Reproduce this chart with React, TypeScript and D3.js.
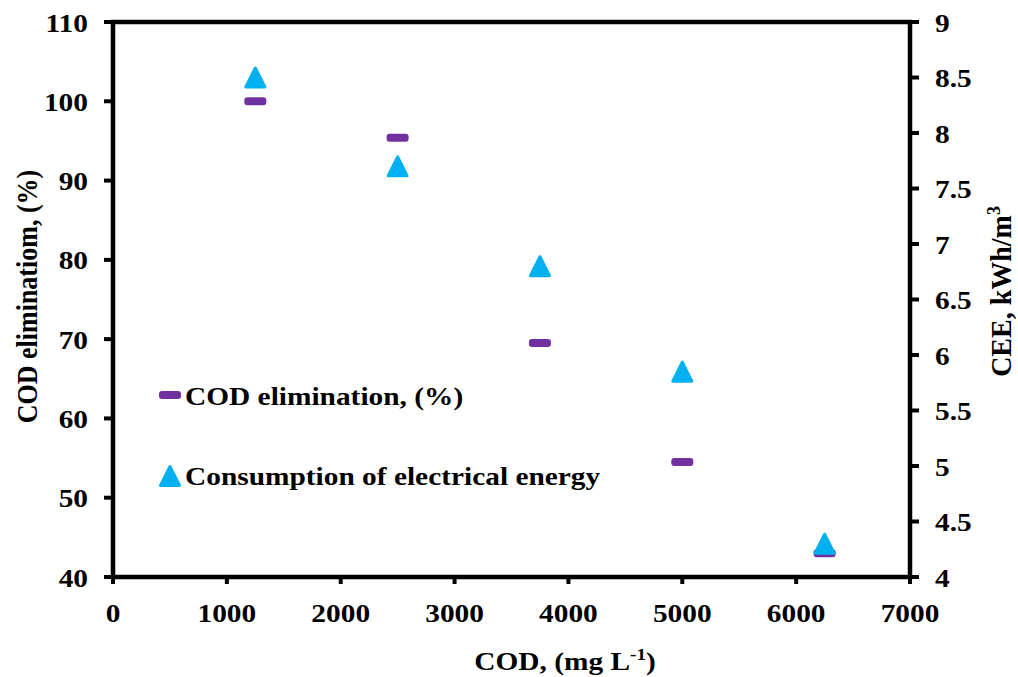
import React from "react";
import * as d3 from "d3";

// COD feed concentration (mg/L)
const codFeed = [1250, 2500, 3750, 5000, 6250];
// COD elimination (%)
const codElimination = [100, 95.4, 69.5, 54.5, 43];
// consumption of electrical energy (kWh/m3)
const ceeValues = [8.5, 7.7, 6.8, 5.85, 4.3];

const xTicks = [0, 1000, 2000, 3000, 4000, 5000, 6000, 7000];
const leftTicks = [40, 50, 60, 70, 80, 90, 100, 110];
const rightTicks = [4, 4.5, 5, 5.5, 6, 6.5, 7, 7.5, 8, 8.5, 9];

const purple = "#7030A0";
const cyan = "#00B0F0";
const font = "Liberation Serif, Times New Roman, serif";

const width = 1018;
const height = 677;
const margin = { top: 22, right: 108, bottom: 100, left: 113 };
// the original picture is a bit wider than tall, so text is stretched
const stretch = 1.13;
const fs = 26;

export default function App() {
    const x = d3
        .scaleLinear()
        .domain([0, 7000])
        .range([margin.left, width - margin.right]);
    const yLeft = d3
        .scaleLinear()
        .domain([40, 110])
        .range([height - margin.bottom, margin.top]);
    const yRight = d3
        .scaleLinear()
        .domain([4, 9])
        .range([height - margin.bottom, margin.top]);

    const x0 = x.range()[0];
    const x1 = x.range()[1];
    const y0 = yLeft.range()[0];
    const y1 = yLeft.range()[1];

    // rounded triangle marker
    const tri = (cx: number, cy: number, s = 11) => {
        const p = [
            [cx, cy - s],
            [cx + s, cy + s],
            [cx - s, cy + s],
        ];
        return `M${p[0]}L${p[1]}L${p[2]}Z`;
    };

    const at = (px: number, py: number) => `translate(${px},${py}) scale(${stretch},1)`;

    const axisStroke = 4.5;

    return (
        <svg
            width={width}
            height={height}
            style={{ position: "absolute", top: 0, left: 0, background: "#fff", fontFamily: font, fontWeight: 700 }}
        >
            {/* frame */}
            <rect
                x={x0}
                y={y1}
                width={x1 - x0}
                height={y0 - y1}
                fill="none"
                stroke="#000"
                strokeWidth={axisStroke}
            />

            {/* x axis */}
            {xTicks.map((t) => (
                <g key={"x" + t}>
                    <line x1={x(t)} x2={x(t)} y1={y0} y2={y0 + 7} stroke="#000" strokeWidth={4} />
                    <text transform={at(x(t), y0 + 45)} textAnchor="middle" fontSize={fs}>
                        {t}
                    </text>
                </g>
            ))}

            {/* left axis */}
            {leftTicks.map((t) => (
                <g key={"l" + t}>
                    <line x1={x0 - 9} x2={x0} y1={yLeft(t)} y2={yLeft(t)} stroke="#000" strokeWidth={4} />
                    <text transform={at(x0 - 25, yLeft(t) + 9.5)} textAnchor="end" fontSize={fs}>
                        {t}
                    </text>
                </g>
            ))}

            {/* right axis */}
            {rightTicks.map((t) => (
                <g key={"r" + t}>
                    <line x1={x1} x2={x1 + 9} y1={yRight(t)} y2={yRight(t)} stroke="#000" strokeWidth={4} />
                    <text transform={at(x1 + 25, yRight(t) + 9.5)} textAnchor="start" fontSize={fs}>
                        {t}
                    </text>
                </g>
            ))}

            {/* axis titles */}
            <text transform={at(565, 670)} textAnchor="middle" fontSize={fs}>
                COD, (mg L
                <tspan fontSize={17} dy={-10}>-1</tspan>
                <tspan dy={10}>)</tspan>
            </text>
            <text
                transform={`translate(37,${(y0 + y1) / 2 - 3}) rotate(-90) scale(1,${stretch})`}
                textAnchor="middle"
                fontSize={fs}
            >
                COD eliminatiom, (%)
            </text>
            <text
                transform={`translate(1011,${(y0 + y1) / 2 - 8}) rotate(-90) scale(1,${stretch * 0.92})`}
                textAnchor="middle"
                fontSize={28}
            >
                CEE, kWh/m
                <tspan fontSize={18} dy={-11}>3</tspan>
            </text>

            {/* series: COD elimination */}
            {codFeed.map((c, i) => (
                <rect
                    key={"d" + i}
                    x={x(c) - 11}
                    y={yLeft(codElimination[i]) - 4}
                    width={22}
                    height={8}
                    rx={3}
                    fill={purple}
                />
            ))}

            {/* series: CEE */}
            {codFeed.map((c, i) => (
                <path
                    key={"t" + i}
                    d={tri(x(c), yRight(ceeValues[i]), 9.5)}
                    fill={cyan}
                    stroke={cyan}
                    strokeWidth={3}
                    strokeLinejoin="round"
                />
            ))}

            {/* legend */}
            <rect x={159} y={391} width={22} height={8} rx={3} fill={purple} />
            <text transform={at(185, 405)} fontSize={fs}>
                COD elimination, (%)
            </text>
            <path d={tri(170, 476, 9.5)} fill={cyan} stroke={cyan} strokeWidth={3} strokeLinejoin="round" />
            <text transform={at(185, 485)} fontSize={fs}>
                Consumption of electrical energy
            </text>
        </svg>
    );
}
